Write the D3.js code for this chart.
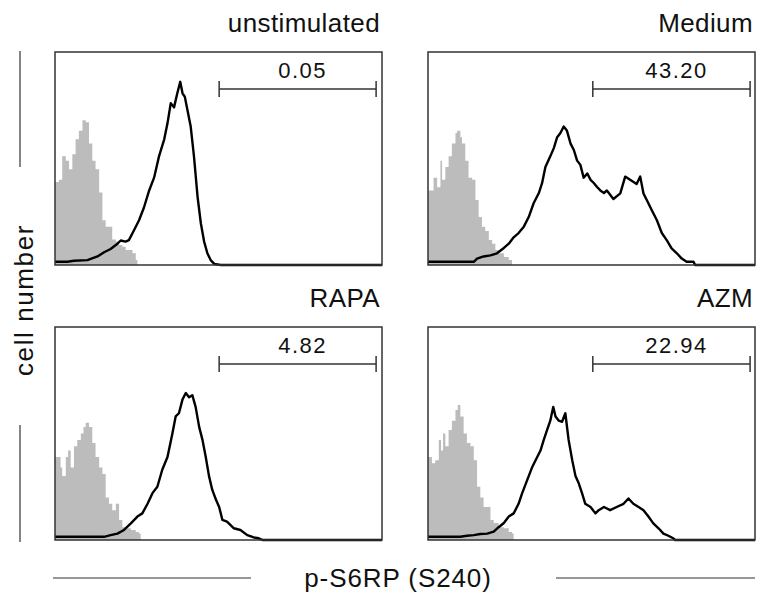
<!DOCTYPE html>
<html>
<head>
<meta charset="utf-8">
<script src="https://cdn.jsdelivr.net/npm/d3@7"></script>
<style>
  body { margin: 0; background: #fff; }
  svg text { font-family: "Liberation Sans", Arial, Helvetica, sans-serif; fill: #111; }
</style>
</head>
<body>
<svg id="chart" width="758" height="593"></svg>
<script>
// flow histograms, p-S6RP (S240); x = channel 0..1000, y = % of panel height

const panelTitles = ['unstimulated', 'Medium', 'RAPA', 'AZM'];
const gateLabels = ['0.05', '43.20', '4.82', '22.94'];
const gateRanges = [[502, 982], [504, 985], [502, 982], [504, 985]];

// grey filled = isotype / control, black line = stained sample  [channel, %]
const unstimGrey = [[0,39],[12,40],[22,51],[33,49],[43,45],[53,52],[63,59],[73,63],[84,68],[94,67],[104,57],[114,49],[124,45],[135,34],[145,21],[155,18],[165,18],[175,12],[186,11],[196,9.4],[206,8.6],[216,7],[226,7],[237,5.5],[247,2.3],[252,0]];
const unstimBlack = [[0,1.5],[38,1.5],[58,2],[99,2.3],[130,4],[150,6],[170,7.5],[191,10],[201,11.5],[216,11],[226,11.7],[242,16.4],[257,21],[272,27],[288,35],[303,41],[318,51],[334,59],[344,66.5],[354,76],[364,74],[374,80.6],[383,86],[390,80.6],[397,79],[405,72.8],[415,65],[425,51],[436,32],[446,19.6],[456,11],[466,5.5],[476,2.3],[487,0.5],[507,0],[1000,0]];

const mediumGrey = [[0,35],[17,41],[28,36.5],[38,49],[43,40],[53,46],[63,51],[73,57],[84,62],[89,63],[99,60],[104,57],[114,49],[124,41],[135,40],[145,30.5],[155,22.5],[165,18],[175,16],[186,11.7],[196,10],[206,7],[216,5.5],[232,3.8],[247,2.3],[257,0]];
const mediumBlack = [[0,1.5],[140,1.5],[150,3],[170,4],[191,4.5],[211,5.5],[232,8],[247,10],[262,13],[277,15],[293,18],[308,22.5],[323,29],[339,33.8],[349,38.5],[359,46],[374,51],[385,55],[395,60],[405,62],[415,65],[425,63],[436,57],[446,54],[456,49],[466,47],[476,41],[487,43],[497,40],[507,38.5],[517,36.6],[527,35],[538,33.8],[547,35],[567,31],[588,33.6],[603,41.5],[618,40],[638,38],[649,41.5],[659,33.6],[669,30.5],[684,25.8],[700,21],[715,15],[730,11.7],[745,7.8],[761,5.5],[776,3],[791,1.5],[812,1.5],[817,0],[1000,0]];

const rapaGrey = [[0,39],[9,39],[17,34],[22,30],[33,39],[40,42],[48,34],[58,44],[68,47],[79,50],[87,53],[94,55],[104,53],[114,45.5],[124,39],[135,34],[145,31],[155,20],[165,17],[175,14],[186,17],[196,9.4],[206,6],[216,5.5],[232,4.7],[247,3.8],[257,3],[262,0]];
const rapaBlack = [[0,1.5],[150,1.5],[170,2.3],[191,3],[211,4.7],[232,7.8],[252,11],[267,12.5],[283,17],[298,22],[313,25],[328,33],[344,39],[359,50],[369,58],[379,59.5],[390,66],[400,69],[410,67],[420,68],[430,62.5],[441,53],[451,47],[461,39],[471,30],[481,23.5],[492,19],[502,15.5],[512,9.4],[526,8.6],[547,5.5],[567,4.7],[588,2.3],[608,1.2],[623,0.8],[635,0],[1000,0]];

const azmGrey = [[0,39],[9,39],[12,36],[22,37.5],[33,47],[40,42],[46,50],[53,44],[63,51.6],[73,56],[84,61],[91,63.4],[99,58],[109,50],[119,45.5],[130,44],[140,37.5],[150,25],[160,20],[170,15.5],[181,15.5],[191,9.4],[201,8],[216,6],[232,5.5],[247,3.8],[257,3],[262,0]];
const azmBlack = [[0,1.5],[99,1.5],[119,2],[140,2.3],[160,2.8],[181,3],[201,3.9],[216,6],[232,8],[247,11],[262,12.5],[277,17],[288,22],[303,28],[318,34],[334,39],[344,42],[354,47],[364,51.6],[374,56],[383,62.5],[390,58],[400,56],[410,55.5],[420,59.5],[430,47],[441,37.5],[451,30],[461,26.6],[471,22],[481,17],[497,15.5],[512,12.5],[522,14],[538,15.5],[557,14],[577,15.5],[598,17],[613,19.5],[628,17],[644,15.5],[659,14],[674,11],[689,7.8],[705,5.5],[720,3],[735,2],[750,0.8],[756,0],[1000,0]];

const greySeries = [unstimGrey, mediumGrey, rapaGrey, azmGrey];
const blackSeries = [unstimBlack, mediumBlack, rapaBlack, azmBlack];

const svg = d3.select('#chart');

const colLeft = [55, 428];
const rowTop = [52, 327];
const boxW = 327, boxH = 213;

panelTitles.forEach((title, i) => {
    const x0 = colLeft[i % 2];
    const y0 = rowTop[Math.floor(i / 2)];

    const xScale = d3.scaleLinear().domain([0, 1000]).range([x0, x0 + boxW]);
    const yScale = d3.scaleLinear().domain([0, 100]).range([y0 + boxH, y0]);

    const g = svg.append('g');

    // control histogram (grey fill)
    const area = d3.area()
        .x(d => xScale(d[0]))
        .y0(yScale(0))
        .y1(d => yScale(d[1]))
        .curve(d3.curveStepAfter);
    g.append('path')
        .datum(greySeries[i])
        .attr('d', area)
        .attr('fill', '#bcbcbc');

    // sample histogram (black line)
    const line = d3.line()
        .x(d => xScale(d[0]))
        .y(d => yScale(d[1]))
        .curve(d3.curveLinear);
    g.append('path')
        .datum(blackSeries[i])
        .attr('d', line)
        .attr('fill', 'none')
        .attr('stroke', '#000')
        .attr('stroke-width', 2.4)
        .attr('stroke-linejoin', 'round');

    // frame
    g.append('rect')
        .attr('x', x0).attr('y', y0)
        .attr('width', boxW).attr('height', boxH)
        .attr('fill', 'none')
        .attr('stroke', '#333')
        .attr('stroke-width', 1.5);

    // gate marker
    const [ga, gb] = gateRanges[i];
    const gy = y0 + 37;
    const gate = g.append('g').attr('stroke', '#333').attr('stroke-width', 1.5);
    gate.append('line').attr('x1', xScale(ga)).attr('x2', xScale(gb)).attr('y1', gy).attr('y2', gy);
    gate.append('line').attr('x1', xScale(ga)).attr('x2', xScale(ga)).attr('y1', gy - 8).attr('y2', gy + 8);
    gate.append('line').attr('x1', xScale(gb)).attr('x2', xScale(gb)).attr('y1', gy - 8).attr('y2', gy + 8);

    g.append('text')
        .attr('x', (xScale(ga) + xScale(gb)) / 2 + 5)
        .attr('y', y0 + 26)
        .attr('text-anchor', 'middle')
        .style('font-size', '22px')
        .style('letter-spacing', '1.5px')
        .text(gateLabels[i]);

    g.append('text')
        .attr('x', x0 + boxW - 2)
        .attr('y', y0 - 20)
        .attr('text-anchor', 'end')
        .style('font-size', '26px')
        .style('letter-spacing', '0.4px')
        .text(title);
});

// y axis label with bars
svg.append('text')
    .attr('transform', 'translate(33,300) rotate(-90)')
    .attr('text-anchor', 'middle')
    .style('font-size', '26px')
    .style('letter-spacing', '1.6px')
    .text('cell number');
svg.append('line').attr('x1', 20).attr('x2', 20).attr('y1', 51).attr('y2', 167).attr('stroke', '#333').attr('stroke-width', 1.2);
svg.append('line').attr('x1', 20).attr('x2', 20).attr('y1', 425).attr('y2', 542).attr('stroke', '#333').attr('stroke-width', 1.2);

// x axis label with bars
svg.append('text')
    .attr('x', 398)
    .attr('y', 587)
    .attr('text-anchor', 'middle')
    .style('font-size', '26px')
    .style('letter-spacing', '0.9px')
    .text('p-S6RP (S240)');
svg.append('line').attr('x1', 53).attr('x2', 251).attr('y1', 578).attr('y2', 578).attr('stroke', '#333').attr('stroke-width', 1.2);
svg.append('line').attr('x1', 556).attr('x2', 755).attr('y1', 578).attr('y2', 578).attr('stroke', '#333').attr('stroke-width', 1.2);
</script>
</body>
</html>
